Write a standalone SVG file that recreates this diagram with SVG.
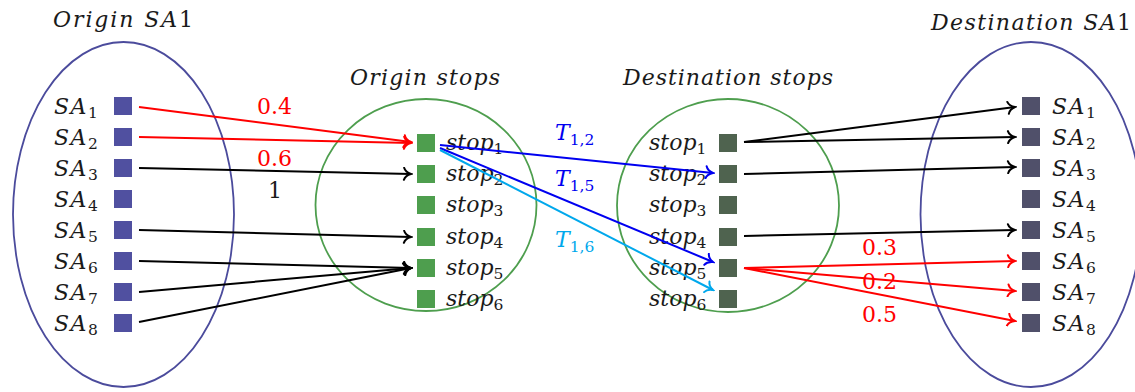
<svg xmlns="http://www.w3.org/2000/svg" width="1135" height="392" viewBox="0 0 1135 392">
  <style>
    text { font-family: 'DejaVu Serif', serif; font-size: 22px; fill: #1a1a1a; }
    .m { font-style: italic; }
    .sa { letter-spacing: 1.5px; }
    .up { font-style: normal; }
    .sub { font-size: 15.5px; font-style: normal; }
    .red { fill: #ff0000; }
    .blue { fill: #0000f0; }
    .cyan { fill: #00a8ec; }
    .zone { fill: none; stroke: #4b4b9c; stroke-width: 1.8; }
    .stops { fill: none; stroke: #4e9e4e; stroke-width: 1.8; }
    .sa-o { fill: #5050a0; }
    .st-o { fill: #4e9e4e; }
    .st-d { fill: #4f634f; }
    .sa-d { fill: #50506a; }
    .lk { fill: none; stroke-width: 2; }
    .k { stroke: #000; marker-end: url(#tipK); }
    .r { stroke: #ff0000; marker-end: url(#tipR); }
    .b { stroke: #0000f0; marker-end: url(#tipB); }
    .c { stroke: #00a8ec; marker-end: url(#tipC); }
  </style>
  <defs>
    <marker id="tipK" viewBox="-9 -7 11 14" refX="0" refY="0" markerWidth="11" markerHeight="14" orient="auto" markerUnits="userSpaceOnUse">
      <path d="M-7,-6 C-6,-2.8 -2.8,-0.8 0,0 C-2.8,0.8 -6,2.8 -7,6" fill="none" stroke="#000" stroke-width="2" stroke-linecap="round"/>
    </marker>
    <marker id="tipR" viewBox="-9 -7 11 14" refX="0" refY="0" markerWidth="11" markerHeight="14" orient="auto" markerUnits="userSpaceOnUse">
      <path d="M-7,-6 C-6,-2.8 -2.8,-0.8 0,0 C-2.8,0.8 -6,2.8 -7,6" fill="none" stroke="#ff0000" stroke-width="2" stroke-linecap="round"/>
    </marker>
    <marker id="tipB" viewBox="-9 -7 11 14" refX="0" refY="0" markerWidth="11" markerHeight="14" orient="auto" markerUnits="userSpaceOnUse">
      <path d="M-7,-6 C-6,-2.8 -2.8,-0.8 0,0 C-2.8,0.8 -6,2.8 -7,6" fill="none" stroke="#0000f0" stroke-width="2" stroke-linecap="round"/>
    </marker>
    <marker id="tipC" viewBox="-9 -7 11 14" refX="0" refY="0" markerWidth="11" markerHeight="14" orient="auto" markerUnits="userSpaceOnUse">
      <path d="M-7,-6 C-6,-2.8 -2.8,-0.8 0,0 C-2.8,0.8 -6,2.8 -7,6" fill="none" stroke="#00a8ec" stroke-width="2" stroke-linecap="round"/>
    </marker>
  </defs>

  <rect width="1135" height="392" fill="#fff"/>

  <!-- zone outlines and titles -->
  <g id="origin-zone">
    <ellipse class="zone" cx="123.5" cy="214.5" rx="110.5" ry="172.5"/>
    <text class="m" x="53" y="27" textLength="140" lengthAdjust="spacing">Origin SA<tspan class="up">1</tspan></text>
  </g>
  <g id="origin-stops">
    <ellipse class="stops" cx="426" cy="205" rx="110.5" ry="106"/>
    <text class="m" x="350" y="85" textLength="150" lengthAdjust="spacing">Origin stops</text>
  </g>
  <g id="destination-stops">
    <ellipse class="stops" cx="728" cy="205.5" rx="111" ry="106.5"/>
    <text class="m" x="623" y="85" textLength="210" lengthAdjust="spacing">Destination stops</text>
  </g>
  <g id="destination-zone">
    <ellipse class="zone" cx="1031" cy="214.5" rx="110.5" ry="172.5"/>
    <text class="m" x="931" y="30" textLength="200" lengthAdjust="spacing">Destination SA<tspan class="up">1</tspan></text>
  </g>

  <!-- origin sub-areas -->
  <g id="origin-sa">
    <g id="o-sa1"><rect class="sa-o" x="114" y="97" width="18" height="18"/><text class="m sa" x="54" y="114">SA<tspan class="sub" dy="4">1</tspan></text></g>
    <g id="o-sa2"><rect class="sa-o" x="114" y="128" width="18" height="18"/><text class="m sa" x="54" y="145">SA<tspan class="sub" dy="4">2</tspan></text></g>
    <g id="o-sa3"><rect class="sa-o" x="114" y="159" width="18" height="18"/><text class="m sa" x="54" y="176">SA<tspan class="sub" dy="4">3</tspan></text></g>
    <g id="o-sa4"><rect class="sa-o" x="114" y="190" width="18" height="18"/><text class="m sa" x="54" y="207">SA<tspan class="sub" dy="4">4</tspan></text></g>
    <g id="o-sa5"><rect class="sa-o" x="114" y="221" width="18" height="18"/><text class="m sa" x="54" y="238">SA<tspan class="sub" dy="4">5</tspan></text></g>
    <g id="o-sa6"><rect class="sa-o" x="114" y="252" width="18" height="18"/><text class="m sa" x="54" y="269">SA<tspan class="sub" dy="4">6</tspan></text></g>
    <g id="o-sa7"><rect class="sa-o" x="114" y="283" width="18" height="18"/><text class="m sa" x="54" y="300">SA<tspan class="sub" dy="4">7</tspan></text></g>
    <g id="o-sa8"><rect class="sa-o" x="114" y="314" width="18" height="18"/><text class="m sa" x="54" y="331">SA<tspan class="sub" dy="4">8</tspan></text></g>
  </g>

  <!-- origin stops -->
  <g id="o-stops">
    <g id="o-stop1"><rect class="st-o" x="417" y="134" width="18" height="18"/><text class="m" x="446" y="150">stop<tspan class="sub" dy="4">1</tspan></text></g>
    <g id="o-stop2"><rect class="st-o" x="417" y="165" width="18" height="18"/><text class="m" x="446" y="181">stop<tspan class="sub" dy="4">2</tspan></text></g>
    <g id="o-stop3"><rect class="st-o" x="417" y="196" width="18" height="18"/><text class="m" x="446" y="212">stop<tspan class="sub" dy="4">3</tspan></text></g>
    <g id="o-stop4"><rect class="st-o" x="417" y="228" width="18" height="18"/><text class="m" x="446" y="244">stop<tspan class="sub" dy="4">4</tspan></text></g>
    <g id="o-stop5"><rect class="st-o" x="417" y="259" width="18" height="18"/><text class="m" x="446" y="275">stop<tspan class="sub" dy="4">5</tspan></text></g>
    <g id="o-stop6"><rect class="st-o" x="417" y="290" width="18" height="18"/><text class="m" x="446" y="306">stop<tspan class="sub" dy="4">6</tspan></text></g>
  </g>

  <!-- destination stops -->
  <g id="d-stops">
    <g id="d-stop1"><rect class="st-d" x="719" y="134" width="18" height="18"/><text class="m" x="649" y="150">stop<tspan class="sub" dy="4">1</tspan></text></g>
    <g id="d-stop2"><rect class="st-d" x="719" y="165" width="18" height="18"/><text class="m" x="649" y="181">stop<tspan class="sub" dy="4">2</tspan></text></g>
    <g id="d-stop3"><rect class="st-d" x="719" y="196" width="18" height="18"/><text class="m" x="649" y="212">stop<tspan class="sub" dy="4">3</tspan></text></g>
    <g id="d-stop4"><rect class="st-d" x="719" y="228" width="18" height="18"/><text class="m" x="649" y="244">stop<tspan class="sub" dy="4">4</tspan></text></g>
    <g id="d-stop5"><rect class="st-d" x="719" y="259" width="18" height="18"/><text class="m" x="649" y="275">stop<tspan class="sub" dy="4">5</tspan></text></g>
    <g id="d-stop6"><rect class="st-d" x="719" y="290" width="18" height="18"/><text class="m" x="649" y="306">stop<tspan class="sub" dy="4">6</tspan></text></g>
  </g>

  <!-- destination sub-areas -->
  <g id="dest-sa">
    <g id="d-sa1"><rect class="sa-d" x="1022" y="97" width="18" height="18"/><text class="m sa" x="1052" y="114">SA<tspan class="sub" dy="4">1</tspan></text></g>
    <g id="d-sa2"><rect class="sa-d" x="1022" y="128" width="18" height="18"/><text class="m sa" x="1052" y="145">SA<tspan class="sub" dy="4">2</tspan></text></g>
    <g id="d-sa3"><rect class="sa-d" x="1022" y="159" width="18" height="18"/><text class="m sa" x="1052" y="176">SA<tspan class="sub" dy="4">3</tspan></text></g>
    <g id="d-sa4"><rect class="sa-d" x="1022" y="190" width="18" height="18"/><text class="m sa" x="1052" y="207">SA<tspan class="sub" dy="4">4</tspan></text></g>
    <g id="d-sa5"><rect class="sa-d" x="1022" y="221" width="18" height="18"/><text class="m sa" x="1052" y="238">SA<tspan class="sub" dy="4">5</tspan></text></g>
    <g id="d-sa6"><rect class="sa-d" x="1022" y="252" width="18" height="18"/><text class="m sa" x="1052" y="269">SA<tspan class="sub" dy="4">6</tspan></text></g>
    <g id="d-sa7"><rect class="sa-d" x="1022" y="283" width="18" height="18"/><text class="m sa" x="1052" y="300">SA<tspan class="sub" dy="4">7</tspan></text></g>
    <g id="d-sa8"><rect class="sa-d" x="1022" y="314" width="18" height="18"/><text class="m sa" x="1052" y="331">SA<tspan class="sub" dy="4">8</tspan></text></g>
  </g>

  <!-- connectors -->
  <g id="connectors">
    <path class="lk r" d="M139,107 L411,142"/>
    <path class="lk r" d="M139,137 L411,143"/>
    <path class="lk k" d="M139,168 L411,174"/>
    <path class="lk k" d="M139,230 L411,237"/>
    <path class="lk k" d="M139,261 L411,268"/>
    <path class="lk k" d="M139,292 L411,268"/>
    <path class="lk k" d="M139,322 L411,268"/>

    <path class="lk b" d="M440,145 L713,173"/>
    <path class="lk b" d="M440,148 L713,262"/>
    <path class="lk c" d="M440,150 L713,290"/>

    <path class="lk k" d="M744,142 L1015,107"/>
    <path class="lk k" d="M744,142 L1015,137"/>
    <path class="lk k" d="M744,174 L1015,167"/>
    <path class="lk k" d="M744,236 L1015,230"/>
    <path class="lk r" d="M744,268 L1015,261"/>
    <path class="lk r" d="M744,268 L1015,291"/>
    <path class="lk r" d="M744,268 L1015,321"/>
  </g>

  <!-- connector labels -->
  <g id="labels">
    <text class="red" x="257" y="114">0.4</text>
    <text class="red" x="257" y="166">0.6</text>
    <text x="268" y="198">1</text>
    <text class="m blue" x="555" y="140">T<tspan class="sub" dy="5">1,2</tspan></text>
    <text class="m blue" x="555" y="186">T<tspan class="sub" dy="5">1,5</tspan></text>
    <text class="m cyan" x="555" y="247">T<tspan class="sub" dy="5">1,6</tspan></text>
    <text class="red" x="862" y="255">0.3</text>
    <text class="red" x="862" y="289">0.2</text>
    <text class="red" x="862" y="322">0.5</text>
  </g>
</svg>
